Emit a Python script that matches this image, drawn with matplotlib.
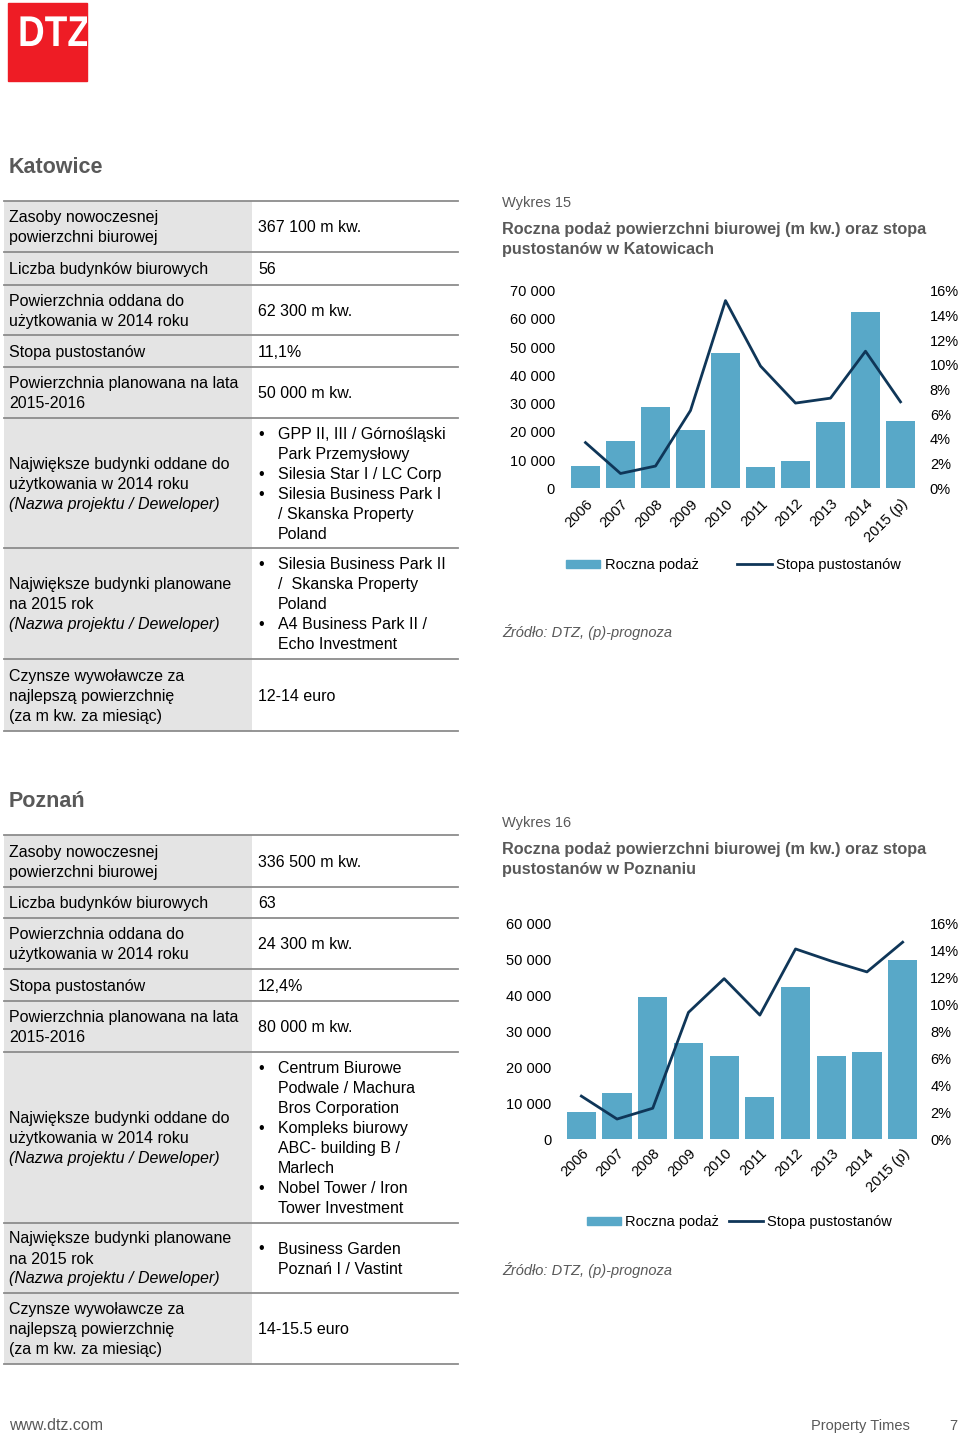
import matplotlib
matplotlib.use('Agg')
import matplotlib.pyplot as plt
from matplotlib.patches import Rectangle, Patch, PathPatch
from matplotlib.lines import Line2D
from matplotlib.textpath import TextPath
from matplotlib.font_manager import FontProperties
from matplotlib.transforms import Affine2D
from matplotlib.ticker import FuncFormatter, MultipleLocator

plt.rcParams['font.family'] = ['Liberation Sans', 'DejaVu Sans']

# chart data
years = ['2006', '2007', '2008', '2009', '2010', '2011', '2012', '2013', '2014', '2015 (p)']
katowice_supply = [8000, 16800, 28700, 20500, 47800, 7400, 9600, 23600, 62300, 24000]
katowice_vacancy = [3.7, 1.2, 1.8, 6.3, 15.2, 9.9, 6.9, 7.3, 11.1, 7.0]
poznan_supply = [7500, 13000, 39400, 26800, 23100, 11800, 42300, 23100, 24300, 49900]
poznan_vacancy = [3.2, 1.5, 2.3, 9.4, 11.9, 9.2, 14.1, 13.2, 12.4, 14.6]

# table data: (label lines, value lines or None, bullet items or None)
katowice_table = [
    (["Zasoby nowoczesnej", "powierzchni biurowej"], ["367 100 m kw."], None),
    (["Liczba budynków biurowych"], ["56"], None),
    (["Powierzchnia oddana do", "użytkowania w 2014 roku"], ["62 300 m kw."], None),
    (["Stopa pustostanów"], ["11,1%"], None),
    (["Powierzchnia planowana na lata", "2015-2016"], ["50 000 m kw."], None),
    (["Największe budynki oddane do", "użytkowania w 2014 roku", "(Nazwa projektu / Deweloper)"], None,
     [["GPP II, III / Górnośląski", "Park Przemysłowy"], ["Silesia Star I / LC Corp"],
      ["Silesia Business Park I", "/ Skanska Property", "Poland"]]),
    (["Największe budynki planowane", "na 2015 rok", "(Nazwa projektu / Deweloper)"], None,
     [["Silesia Business Park II", "/  Skanska Property", "Poland"], ["A4 Business Park II /", "Echo Investment"]]),
    (["Czynsze wywoławcze za", "najlepszą powierzchnię", "(za m kw. za miesiąc)"], ["12-14 euro"], None),
]
poznan_table = [
    (["Zasoby nowoczesnej", "powierzchni biurowej"], ["336 500 m kw."], None),
    (["Liczba budynków biurowych"], ["63"], None),
    (["Powierzchnia oddana do", "użytkowania w 2014 roku"], ["24 300 m kw."], None),
    (["Stopa pustostanów"], ["12,4%"], None),
    (["Powierzchnia planowana na lata", "2015-2016"], ["80 000 m kw."], None),
    (["Największe budynki oddane do", "użytkowania w 2014 roku", "(Nazwa projektu / Deweloper)"], None,
     [["Centrum Biurowe", "Podwale / Machura", "Bros Corporation"],
      ["Kompleks biurowy", "ABC- building B /", "Marlech"],
      ["Nobel Tower / Iron", "Tower Investment"]]),
    (["Największe budynki planowane", "na 2015 rok", "(Nazwa projektu / Deweloper)"], None,
     [["Business Garden", "Poznań I / Vastint"]]),
    (["Czynsze wywoławcze za", "najlepszą powierzchnię", "(za m kw. za miesiąc)"], ["14-15.5 euro"], None),
]
katowice_rows = [201, 252, 285, 335, 367, 418, 548, 659, 731]
poznan_rows = [835, 887, 918, 969, 1001, 1052, 1223, 1293, 1364]

BAR = '#58a8c8'
LINE = '#0f3658'
GREY = '#595959'
FS = 11.5
W, H = 960, 1433

fig = plt.figure(figsize=(W / 100, H / 100), dpi=100)
page = fig.add_axes([0, 0, 1, 1])
page.set_xlim(0, W)
page.set_ylim(H, 0)
page.axis('off')

# logo - bold letters, cut off at the right edge of the red square
logo = Rectangle((8, 3), 79, 78, color='#ee1c25', zorder=1)
page.add_patch(logo)
tp = TextPath((0, 0), 'DTZ', size=43, prop=FontProperties(family='Liberation Sans', weight='bold'))
letters = PathPatch(tp, color='white', lw=0, zorder=2,
                    transform=Affine2D().scale(0.86, -1.0).translate(18, 46) + page.transData)
page.add_patch(letters)
letters.set_clip_path(logo)


def draw_table(rows, bounds):
    page.add_patch(Rectangle((4, bounds[0]), 248, bounds[-1] - bounds[0], color='#e4e4e4', lw=0, zorder=0))
    for b in bounds:
        page.plot([4, 458], [b, b], color='#8c8c8c', lw=1.3, zorder=1)
    for (labels, values, bullets), top, bot in zip(rows, bounds[:-1], bounds[1:]):
        mid = (top + bot) / 2
        y0 = mid - (len(labels) - 1) * 10
        for i, s in enumerate(labels):
            page.text(9, y0 + i * 20 + 5.5, s, fontsize=FS, va='baseline',
                      style='italic' if s.startswith('(Nazwa') else 'normal')
        if values:
            y0 = mid - (len(values) - 1) * 10
            for i, s in enumerate(values):
                page.text(258, y0 + i * 20 + 5.5, s, fontsize=FS, va='baseline')
        if bullets:
            n = sum(len(b) for b in bullets)
            y = mid - (n - 1) * 10
            for item in bullets:
                page.text(258, y + 5.5, '•', fontsize=FS, va='baseline')
                for s in item:
                    page.text(278, y + 5.5, s, fontsize=FS, va='baseline')
                    y += 20


def draw_chart(rect, supply, vacancy, ymax, ypad, rpad, xpad, num, title2, top):
    page.text(502, top, 'Wykres %d' % num, fontsize=10.5, color=GREY, va='baseline')
    page.text(502, top + 27, 'Roczna podaż powierzchni biurowej (m kw.) oraz stopa',
              fontsize=11.7, fontweight='bold', color=GREY, va='baseline')
    page.text(502, top + 47, title2, fontsize=11.7, fontweight='bold', color=GREY, va='baseline')

    ax = fig.add_axes(rect)
    ax.patch.set_alpha(0)
    x = range(len(years))
    ax.bar(x, supply, width=0.82, color=BAR)
    ax.set_xlim(-0.5, len(years) - 0.5)
    ax.set_ylim(0, ymax)
    ax.yaxis.set_major_locator(MultipleLocator(10000))
    ax.yaxis.set_major_formatter(FuncFormatter(lambda v, p: '{:,.0f}'.format(v).replace(',', ' ')))
    ax.set_xticks(list(x))
    ax.set_xticklabels(years, rotation=45, ha='right', rotation_mode='anchor')
    ax.tick_params(axis='y', length=0, pad=ypad, labelsize=10.5)
    ax.tick_params(axis='x', length=0, pad=xpad, labelsize=10.5)
    for sp in ax.spines.values():
        sp.set_visible(False)

    ax2 = ax.twinx()
    ax2.plot(x, vacancy, color=LINE, lw=2)
    ax2.set_ylim(0, 16)
    ax2.yaxis.set_major_locator(MultipleLocator(2))
    ax2.yaxis.set_major_formatter(FuncFormatter(lambda v, p: '%d%%' % v))
    ax2.tick_params(axis='y', length=0, pad=rpad, labelsize=10.5)
    for sp in ax2.spines.values():
        sp.set_visible(False)
    return ax


def draw_legend(cx, cy, colspace):
    handles = [Patch(color=BAR), Line2D([], [], color=LINE, lw=2)]
    fig.legend(handles, ['Roczna podaż', 'Stopa pustostanów'], loc='center', ncol=2, frameon=False,
               bbox_to_anchor=(cx / W, 1 - cy / H), fontsize=10.5, handlelength=2.35, handleheight=0.45,
               handletextpad=0.3, columnspacing=colspace, borderpad=0)


# Katowice
page.text(9, 173, 'Katowice', fontsize=15.5, fontweight='bold', color=GREY, va='baseline')
draw_table(katowice_table, katowice_rows)
draw_chart([568 / W, 1 - 488.3 / H, 350 / W, 197.6 / H], katowice_supply, katowice_vacancy,
           70000, 9.5, 8.5, 6, 15, 'pustostanów w Katowicach', 206.7)
draw_legend(733.5, 565, 2.65)
page.text(502, 637, 'Źródło: DTZ, (p)-prognoza', fontsize=10.5, style='italic', color=GREY, va='baseline')

# Poznań
page.text(9, 807, 'Poznań', fontsize=15.5, fontweight='bold', color=GREY, va='baseline')
draw_table(poznan_table, poznan_rows)
draw_chart([563.5 / W, 1 - 1139.3 / H, 357 / W, 216 / H], poznan_supply, poznan_vacancy,
           60000, 8.5, 7, 5, 16, 'pustostanów w Poznaniu', 826.7)
draw_legend(739.5, 1222, 0.65)
page.text(502, 1275, 'Źródło: DTZ, (p)-prognoza', fontsize=10.5, style='italic', color=GREY, va='baseline')

# footer
page.text(9, 1430, 'www.dtz.com', fontsize=11.5, color=GREY, va='baseline')
page.text(910, 1430, 'Property Times', fontsize=10.5, color=GREY, va='baseline', ha='right')
page.text(957, 1430, '7', fontsize=10.5, color=GREY, va='baseline', ha='right')

fig.savefig('out.png', dpi=100)
